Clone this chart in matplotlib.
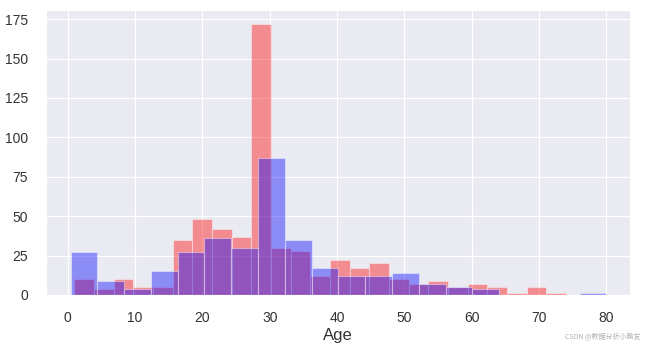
import numpy as np
import matplotlib.pyplot as plt
import seaborn as sns

# =========================
# DATA (Titanic ages)
# =========================

# died: 25 bins between 1 and 74
died_range = (1, 74)
died_counts = [10, 4, 10, 5, 5, 35, 48, 42, 37, 172, 30, 28, 12,
               22, 17, 20, 10, 7, 9, 5, 7, 5, 1, 5, 1]

# survived: 20 bins between 0.42 and 80
surv_range = (0.42, 80)
surv_counts = [27, 9, 4, 15, 27, 36, 30, 87, 35, 17, 12, 12, 14,
               7, 5, 4, 0, 0, 0, 1]

x_label = "Age"
watermark = "CSDN @数据分析小鹏友"

# =========================
# STYLE
# =========================

sns.set_style("darkgrid")
plt.rcParams['font.family'] = ['Liberation Sans', 'DejaVu Sans']

fig = plt.figure(figsize=(6.5, 3.45), dpi=100)
ax = fig.add_axes([0.070, 0.145, 0.899, 0.825])

# =========================
# HISTOGRAMS
# =========================

died_edges = np.linspace(*died_range, len(died_counts) + 1)
surv_edges = np.linspace(*surv_range, len(surv_counts) + 1)

ax.hist(died_edges[:-1], bins=died_edges, weights=died_counts,
        color='r', alpha=0.4, edgecolor='w', linewidth=0.8)
ax.hist(surv_edges[:-1], bins=surv_edges, weights=surv_counts,
        color='b', alpha=0.4, edgecolor='w', linewidth=0.8)

ax.set_xlim(-3.3, 83.5)
ax.set_xticks(np.arange(0, 81, 10))
ax.set_yticks(np.arange(0, 176, 25))
ax.tick_params(axis='both', labelsize=10, colors='#333333')
ax.tick_params(axis='y', pad=9)
ax.tick_params(axis='x', pad=8)
ax.set_xlabel(x_label, fontsize=12, color='#333333', labelpad=2)

fig.text(0.985, 0.02, watermark, fontsize=5, color='#b0b0b0', ha='right',
         family=['Noto Sans CJK SC', 'DejaVu Sans'])

fig.savefig("out.png", dpi=100)
